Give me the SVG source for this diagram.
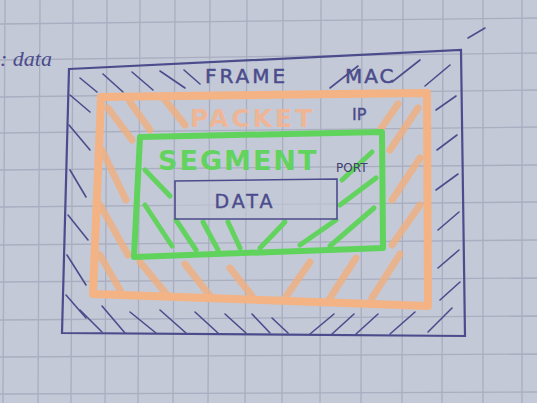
<svg xmlns="http://www.w3.org/2000/svg" width="537" height="403" viewBox="0 0 537 403">
<defs>
<style>
.paper{fill:#c4c9d7}
.grid line{stroke:#a9aec0;stroke-width:1.3}
.navy{stroke:#4b4c8c;fill:none;stroke-linecap:round}
.nh line{stroke:#4b4c8c;stroke-width:1.6;stroke-linecap:round}
.oh line{stroke:#f2b07e;stroke-width:7;stroke-linecap:round;opacity:.8}
.gh line{stroke:#62d35e;stroke-width:5;stroke-linecap:round}
.hand{font-family:"DejaVu Sans",sans-serif}
</style>
</defs>
<rect class="paper" width="537" height="403"/>
<g class="grid">
<line x1="5" y1="0" x2="3" y2="403"/><line x1="40" y1="0" x2="38" y2="403"/><line x1="73" y1="0" x2="71" y2="403"/><line x1="107" y1="0" x2="105" y2="403"/><line x1="140" y1="0" x2="138" y2="403"/><line x1="175" y1="0" x2="173" y2="403"/><line x1="210" y1="0" x2="208" y2="403"/><line x1="247" y1="0" x2="245" y2="403"/><line x1="283" y1="0" x2="282" y2="403"/><line x1="321" y1="0" x2="320" y2="403"/><line x1="362" y1="0" x2="361" y2="403"/><line x1="403" y1="0" x2="402" y2="403"/><line x1="443" y1="0" x2="442" y2="403"/><line x1="483" y1="0" x2="483" y2="403"/><line x1="522" y1="0" x2="522" y2="403"/>
<line x1="0" y1="24" x2="537" y2="18"/><line x1="0" y1="60" x2="537" y2="53"/><line x1="0" y1="97" x2="537" y2="90"/><line x1="0" y1="133" x2="537" y2="127"/><line x1="0" y1="170" x2="537" y2="165"/><line x1="0" y1="207" x2="537" y2="202"/><line x1="0" y1="245" x2="537" y2="240"/><line x1="0" y1="282" x2="537" y2="278"/><line x1="0" y1="320" x2="537" y2="316"/><line x1="0" y1="357" x2="537" y2="354"/><line x1="0" y1="394" x2="537" y2="392"/>
</g>
<text x="0" y="66" font-size="22" font-style="italic" fill="#4b4c8c" font-family="'Liberation Serif',serif">: data</text>
<g id="frame">
<polygon class="navy" stroke-width="2.2" points="69,69 461,50 465,336 62,333"/>
<g class="nh">
<line x1="80" y1="78" x2="97" y2="92"/><line x1="103" y1="74" x2="123" y2="92"/><line x1="132" y1="72" x2="153" y2="90"/><line x1="160" y1="71" x2="185" y2="88"/><line x1="184" y1="70" x2="200" y2="84"/>
<line x1="330" y1="88" x2="358" y2="66"/><line x1="392" y1="82" x2="420" y2="60"/><line x1="425" y1="86" x2="450" y2="65"/>
<line x1="70" y1="95" x2="90" y2="112"/><line x1="69" y1="125" x2="90" y2="150"/><line x1="70" y1="170" x2="86" y2="197"/><line x1="68" y1="215" x2="88" y2="240"/><line x1="67" y1="255" x2="86" y2="285"/><line x1="66" y1="295" x2="86" y2="318"/>
<line x1="80" y1="310" x2="102" y2="332"/><line x1="102" y1="306" x2="125" y2="333"/><line x1="130" y1="312" x2="156" y2="333"/><line x1="160" y1="310" x2="186" y2="333"/><line x1="195" y1="312" x2="218" y2="333"/><line x1="225" y1="314" x2="246" y2="333"/><line x1="252" y1="314" x2="270" y2="333"/><line x1="272" y1="318" x2="288" y2="333"/>
<line x1="310" y1="334" x2="334" y2="314"/><line x1="332" y1="334" x2="354" y2="314"/><line x1="356" y1="334" x2="378" y2="314"/><line x1="390" y1="334" x2="415" y2="312"/><line x1="428" y1="332" x2="452" y2="308"/>
<line x1="436" y1="110" x2="456" y2="96"/><line x1="437" y1="150" x2="457" y2="135"/><line x1="436" y1="190" x2="458" y2="174"/><line x1="438" y1="230" x2="459" y2="212"/><line x1="438" y1="268" x2="459" y2="250"/><line x1="440" y1="300" x2="460" y2="282"/>
</g>
<text class="hand" x="205" y="83" font-size="20" letter-spacing="3" fill="#4b4c8c" stroke="#4b4c8c" stroke-width="0.5">FRAME</text>
<text class="hand" x="345" y="83" font-size="20" letter-spacing="2" fill="#4b4c8c" stroke="#4b4c8c" stroke-width="0.5">MAC</text>
<path class="navy" stroke-width="1.5" d="M468,38 L485,28"/>
</g>
<g id="packet">
<g class="oh">
<line x1="108" y1="108" x2="132" y2="140"/><line x1="130" y1="102" x2="150" y2="130"/><line x1="165" y1="100" x2="185" y2="125"/>
<line x1="102" y1="150" x2="126" y2="200"/><line x1="100" y1="205" x2="128" y2="255"/><line x1="100" y1="255" x2="120" y2="290"/>
<line x1="140" y1="262" x2="168" y2="296"/><line x1="185" y1="264" x2="210" y2="296"/><line x1="230" y1="268" x2="252" y2="296"/>
<line x1="285" y1="298" x2="310" y2="262"/><line x1="330" y1="298" x2="356" y2="258"/><line x1="372" y1="298" x2="400" y2="254"/>
<line x1="390" y1="150" x2="418" y2="108"/><line x1="392" y1="200" x2="420" y2="158"/><line x1="392" y1="245" x2="420" y2="205"/><line x1="380" y1="130" x2="398" y2="104"/>
</g>
<polygon points="101,97 427,93 428,306 93,294" fill="none" stroke="#f3b384" stroke-width="8" stroke-linejoin="round"/>
<text class="hand" x="190" y="127" font-size="25" font-weight="bold" letter-spacing="3" fill="#f3b590" opacity="0.9">PACKET</text>
<text class="hand" x="352" y="120" font-size="16" fill="#4b4c8c" stroke="#4b4c8c" stroke-width="0.4">IP</text>
</g>
<g id="segment">
<g class="gh">
<line x1="145" y1="170" x2="170" y2="196"/><line x1="145" y1="205" x2="172" y2="246"/><line x1="176" y1="220" x2="196" y2="250"/><line x1="203" y1="222" x2="218" y2="250"/><line x1="228" y1="222" x2="240" y2="248"/>
<line x1="260" y1="248" x2="285" y2="222"/><line x1="300" y1="245" x2="336" y2="220"/><line x1="330" y1="246" x2="374" y2="208"/><line x1="340" y1="205" x2="376" y2="178"/><line x1="342" y1="180" x2="372" y2="152"/>
</g>
<polygon points="140,137 382,132 383,248 134,257" fill="none" stroke="#5fd35b" stroke-width="6" stroke-linejoin="round"/>
<text class="hand" x="158" y="170" font-size="27" font-weight="bold" letter-spacing="2" fill="#62d35e">SEGMENT</text>
<text class="hand" x="336" y="172" font-size="12" fill="#3e3f6e">PORT</text>
</g>
<g id="data">
<polygon points="175,181 337,179 337,219 175,219" fill="#c4c9d7" fill-opacity="0.6" stroke="#4b4c8c" stroke-width="1.6"/>
<text class="hand" x="245" y="208" font-size="19" letter-spacing="3" text-anchor="middle" fill="#4b4c8c" stroke="#4b4c8c" stroke-width="0.4">DATA</text>
</g>
<g id="connectors"/>
</svg>
